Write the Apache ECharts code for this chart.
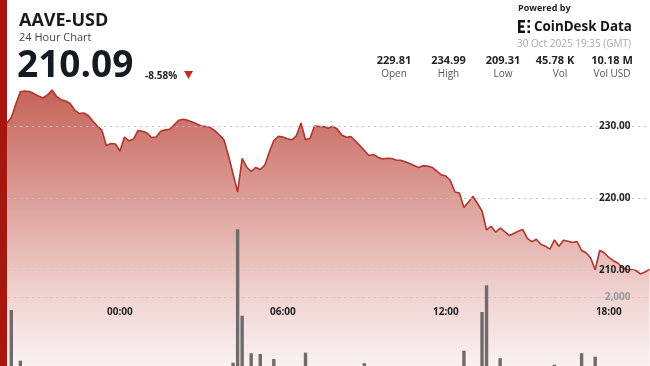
<!DOCTYPE html>
<html>
<head>
<meta charset="utf-8">
<script src="https://cdn.jsdelivr.net/npm/echarts@6/dist/echarts.min.js"></script>
<style>
html,body{margin:0;padding:0;background:#fff;}
#c{width:650px;height:366px;}
</style>
</head>
<body>
<div id="c"></div>
<script>
// ---- data (10-minute samples, 29 Oct 19:40 -> 30 Oct 19:30 GMT) ----
const times = [
'19:40','19:50',
'20:00','20:10','20:20','20:30','20:40','20:50',
'21:00','21:10','21:20','21:30','21:40','21:50',
'22:00','22:10','22:20','22:30','22:40','22:50',
'23:00','23:10','23:20','23:30','23:40','23:50',
'00:00','00:10','00:20','00:30','00:40','00:50',
'01:00','01:10','01:20','01:30','01:40','01:50',
'02:00','02:10','02:20','02:30','02:40','02:50',
'03:00','03:10','03:20','03:30','03:40','03:50',
'04:00','04:10','04:20','04:30','04:40','04:50',
'05:00','05:10','05:20','05:30','05:40','05:50',
'06:00','06:10','06:20','06:30','06:40','06:50',
'07:00','07:10','07:20','07:30','07:40','07:50',
'08:00','08:10','08:20','08:30','08:40','08:50',
'09:00','09:10','09:20','09:30','09:40','09:50',
'10:00','10:10','10:20','10:30','10:40','10:50',
'11:00','11:10','11:20','11:30','11:40','11:50',
'12:00','12:10','12:20','12:30','12:40','12:50',
'13:00','13:10','13:20','13:30','13:40','13:50',
'14:00','14:10','14:20','14:30','14:40','14:50',
'15:00','15:10','15:20','15:30','15:40','15:50',
'16:00','16:10','16:20','16:30','16:40','16:50',
'17:00','17:10','17:20','17:30','17:40','17:50',
'18:00','18:10','18:20','18:30','18:40','18:50',
'19:00','19:10','19:20','19:30'
];
const prices = [
229.81,230.38,231.18,233.06,234.75,234.86,234.79,234.50,234.17,233.89,234.30,234.99,
234.10,233.65,233.47,233.13,232.22,231.74,231.81,231.46,230.69,230.00,229.44,227.29,
227.56,227.50,226.53,228.47,227.92,228.19,229.38,229.28,229.03,228.40,228.47,229.28,
229.46,229.56,230.17,230.81,230.94,230.78,230.56,230.28,230.01,229.92,229.78,229.32,
228.75,228.06,225.83,223.33,220.83,225.49,224.31,223.68,224.24,223.96,224.56,226.39,
227.99,228.57,228.47,228.22,228.08,228.68,230.42,228.10,228.29,230.00,229.93,229.92,
229.68,229.97,229.58,228.75,228.44,228.54,227.94,227.29,226.60,225.90,226.04,225.67,
225.42,225.51,225.49,225.28,225.25,225.03,224.78,224.51,224.24,224.49,224.44,224.24,
223.75,223.22,223.06,222.43,220.83,220.69,218.68,219.44,220.21,219.24,218.19,215.56,
216.07,215.24,215.83,215.35,214.78,215.06,215.38,215.63,214.38,213.93,214.26,213.57,
213.31,212.89,214.17,213.29,214.13,213.99,213.81,213.96,212.71,212.39,211.67,210.03,
212.71,212.39,211.74,211.29,210.97,210.35,210.06,210.07,209.93,209.45,209.72,210.09
];
const volumes = [
420,380,1748,310,763,290,260,240,310,280,350,420,
260,210,190,230,280,240,220,260,240,300,280,450,
330,270,380,300,260,240,220,250,230,210,190,200,
180,170,210,190,160,150,170,160,150,140,160,180,
220,320,480,724,3315,1637,520,907,410,893,380,460,
796,420,330,300,280,320,450,919,380,300,260,240,
220,210,230,260,250,220,240,280,713,300,250,230,
210,200,190,210,200,180,190,210,230,200,190,220,
250,300,280,330,520,450,957,480,380,520,1709,2227,
560,480,810,420,380,300,280,260,350,320,290,300,
280,320,686,300,280,260,250,300,907,420,380,841,
400,330,300,280,260,240,230,220,210,230,200,190
];
const timeLabels = ['00:00','06:00','12:00','18:00'];
const stats = [
  {value:'229.81', label:'Open'},
  {value:'234.99', label:'High'},
  {value:'209.31', label:'Low'},
  {value:'45.78 K', label:'Vol'},
  {value:'10.18 M', label:'Vol USD'}
];
const symbol = 'AAVE-USD';
const lastPrice = '210.09';
const changePct = '-8.58%';
const stamp = '30 Oct 2025 19:35 (GMT)';

// ---- chart ----
const chart = echarts.init(document.getElementById('c'), null, {renderer:'canvas'});
const FONT = '"Open Sans","Noto Sans",sans-serif';
const L = 2.26, R = 0.5;
const dotted = {color:'#c4c4c4', type:[2,4], width:1};

const statX = [394, 448.5, 503, 555, 612];
const statGraphics = [];
stats.forEach((s, i) => {
  statGraphics.push({type:'text', z:100, style:{text:s.value, x:statX[i], y:61, textAlign:'center', textVerticalAlign:'middle', font:'bold 11px '+FONT, fill:'#222'}});
  statGraphics.push({type:'text', z:100, style:{text:s.label, x:statX[i] + (i===3?5:0), y:74.5, textAlign:'center', textVerticalAlign:'middle', font:'10px '+FONT, fill:'#555'}});
});

const option = {
  animation:false,
  backgroundColor:'#ffffff',
  grid:[
    {left:L, right:R, top:82.8, bottom:0},   // price series
    {left:L, right:R, top:82.8, bottom:24},  // price ticks + time labels
    {left:L, right:R, top:225, bottom:0},    // volume bars (baseline sits below the visible frame)
    {left:L, right:R, top:194, bottom:69}    // volume tick
  ],
  xAxis:[
    {type:'category', gridIndex:0, data:times, boundaryGap:false, show:false},
    {type:'category', gridIndex:1, data:times, boundaryGap:false, z:5,
      axisLine:{show:false}, axisTick:{show:false}, splitLine:{show:false},
      axisLabel:{inside:true, margin:25, fontFamily:FONT, fontSize:10, fontWeight:'bold', color:'#222',
        interval:function(idx, val){ return timeLabels.indexOf(val) >= 0; }}
    },
    {type:'category', gridIndex:2, data:times, boundaryGap:false, show:false},
    {type:'category', gridIndex:3, data:times, boundaryGap:false, show:false}
  ],
  yAxis:[
    {type:'value', gridIndex:0, min:196.6667, max:236, show:false},
    {type:'value', gridIndex:1, min:200, max:236, interval:10, position:'right', z:5,
      axisLine:{show:false}, axisTick:{show:false},
      splitLine:{show:true, showMinLine:false, showMaxLine:false, lineStyle:dotted},
      axisLabel:{inside:true, margin:19, showMinLabel:false, showMaxLabel:false, fontFamily:FONT, fontSize:10, fontWeight:'bold', color:'#222',
        formatter:function(v){ return v.toFixed(2); }}
    },
    {type:'value', gridIndex:2, min:660, max:3398, show:false},
    {type:'value', gridIndex:3, min:2000, max:4000, interval:2000, position:'right', z:5,
      axisLine:{show:false}, axisTick:{show:false},
      splitLine:{show:true, showMinLine:true, showMaxLine:false, lineStyle:dotted},
      axisLabel:{inside:true, margin:19, showMinLabel:true, showMaxLabel:false, fontFamily:FONT, fontSize:10, fontWeight:'bold', color:'#999',
        formatter:function(v){ return v.toLocaleString('en-US'); }}
    }
  ],
  series:[
    {type:'line', xAxisIndex:0, yAxisIndex:0, data:prices, symbol:'none', z:2, smooth:false,
      lineStyle:{color:'#b0352b', width:1.6},
      areaStyle:{origin:'start', opacity:1,
        color:new echarts.graphic.LinearGradient(0, 88, 0, 366, [
          {offset:0, color:'rgb(196,98,88)'},
          {offset:0.4, color:'rgb(221,158,152)'},
          {offset:0.75, color:'rgb(240,212,210)'},
          {offset:1, color:'rgb(250,241,241)'}
        ], true)}
    },
    {type:'bar', xAxisIndex:2, yAxisIndex:2, data:volumes, barWidth:3.4, z:6, clip:true,
      itemStyle:{color:'#6f6b6b'}}
  ],
  graphic:[
    {type:'rect', z:100, shape:{x:0, y:0, width:7, height:366}, style:{fill:'#a8170e'}},
    {type:'text', z:100, style:{text:symbol, x:19, y:21, textVerticalAlign:'middle', font:'bold 18px '+FONT, fill:'#1b1b1b'}},
    {type:'text', z:100, style:{text:'24 Hour Chart', x:19, y:38, textVerticalAlign:'middle', font:'11px '+FONT, fill:'#444'}},
    {type:'text', z:100, style:{text:lastPrice, x:17, y:66, textVerticalAlign:'middle', font:'bold 37px '+FONT, fill:'#141a22'}},
    {type:'text', z:100, style:{text:changePct, x:145, y:76, textVerticalAlign:'middle', font:'bold 10px '+FONT, fill:'#222'}},
    {type:'polygon', z:100, shape:{points:[[184,71],[193,71],[188.5,79]]}, style:{fill:'#c62a1e'}},
    {type:'text', z:100, style:{text:'Powered by', x:518, y:8, textVerticalAlign:'middle', font:'bold 9px '+FONT, fill:'#222'}},
    {type:'group', z:100, children:[
      {type:'rect', shape:{x:518, y:20, width:2.5, height:13}, style:{fill:'#111'}},
      {type:'rect', shape:{x:518, y:20, width:7, height:2.5}, style:{fill:'#111'}},
      {type:'rect', shape:{x:518, y:30.5, width:7, height:2.5}, style:{fill:'#111'}},
      {type:'rect', shape:{x:520, y:25.3, width:4, height:2.5}, style:{fill:'#111'}},
      {type:'rect', shape:{x:527.5, y:20, width:2.5, height:2.5}, style:{fill:'#111'}},
      {type:'rect', shape:{x:527.5, y:25.3, width:2.5, height:2.5}, style:{fill:'#111'}},
      {type:'rect', shape:{x:527.5, y:30.5, width:2.5, height:2.5}, style:{fill:'#111'}}
    ]},
    {type:'text', z:100, style:{text:'CoinDesk Data', x:534, y:27, textVerticalAlign:'middle', font:'bold 13.4px '+FONT, fill:'#151515'}},
    {type:'text', z:100, style:{text:stamp, x:631, y:44.5, textAlign:'right', textVerticalAlign:'middle', font:'10px '+FONT, fill:'#a8a8a8'}}
  ].concat(statGraphics)
};
chart.setOption(option);
</script>
</body>
</html>
